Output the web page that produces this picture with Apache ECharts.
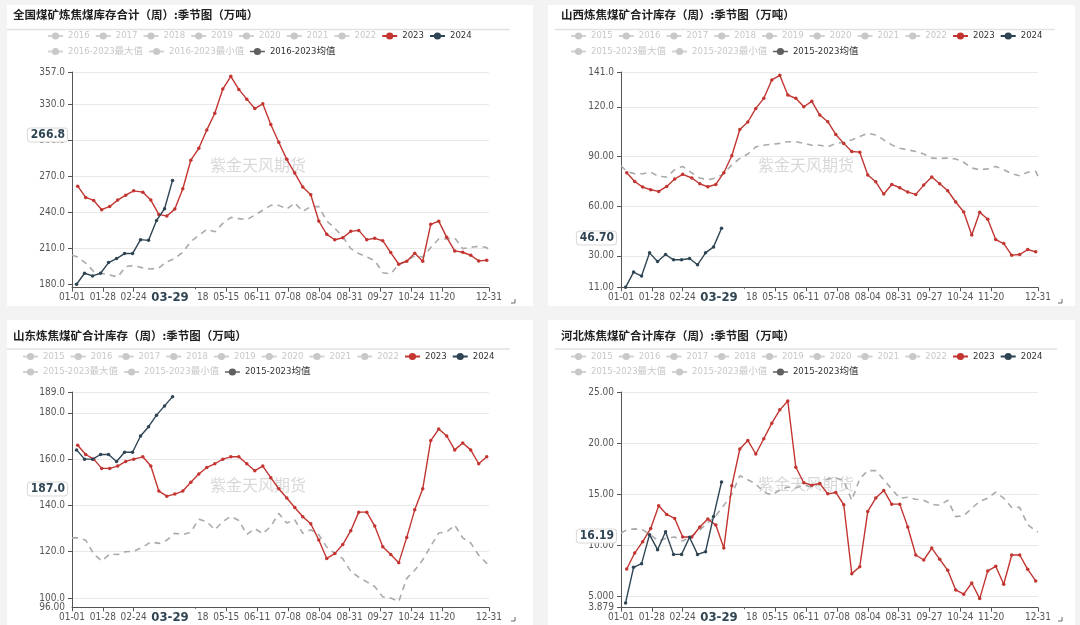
<!DOCTYPE html>
<html><head><meta charset="utf-8">
<script src="https://cdn.jsdelivr.net/npm/echarts@6/dist/echarts.min.js"></script>
<style>html,body{margin:0;padding:0;background:#f3f3f3;}#c{width:1080px;height:625px;}</style>
</head><body><div id="c"></div>
<script>
// ---------- data ----------
const titles = [
  '全国煤矿炼焦煤库存合计（周）:季节图（万吨）',
  '山西炼焦煤矿合计库存（周）:季节图（万吨）',
  '山东炼焦煤矿合计库存（周）:季节图（万吨）',
  '河北炼焦煤矿合计库存（周）:季节图（万吨）'
];
const hiddenYearsA = ['2016','2017','2018','2019','2020','2021','2022'];
const hiddenYearsB = ['2015','2016','2017','2018','2019','2020','2021','2022'];
const rangeA = '2016-2023';
const rangeB = '2015-2023';
const markDate = '03-29';

const fri2023 = ['01-06','01-13','01-20','01-27','02-03','02-10','02-17','02-24','03-03','03-10','03-17','03-24','03-31',
  '04-07','04-14','04-21','04-28','05-05','05-12','05-19','05-26','06-02','06-09','06-16','06-23','06-30',
  '07-07','07-14','07-21','07-28','08-04','08-11','08-18','08-25','09-01','09-08','09-15','09-22','09-29',
  '10-06','10-13','10-20','10-27','11-03','11-10','11-17','11-24','12-01','12-08','12-15','12-22','12-29'];
const fri2024 = ['01-05','01-12','01-19','01-26','02-02','02-09','02-16','02-23','03-01','03-08','03-15','03-22','03-29'];
const avgDates = ['01-01'].concat(fri2023, ['12-31']);

const qg2023 = [262.0,252.6,250.1,242.4,245.1,250.4,254.5,258.1,257.0,250.4,238.5,237.1,242.9,259.8,283.6,293.5,308.8,322.7,342.8,353.4,342.5,334.4,326.6,330.5,313.3,298.5,284.3,272.9,261.2,254.8,233.0,221.9,217.4,219.1,224.4,225.2,217.5,218.6,216.6,206.7,197.0,199.5,206.1,199.5,230.2,232.9,219.4,208.1,207.0,204.5,199.8,200.3];
const qg2024 = [180.4,189.5,187.3,189.5,198.4,201.7,205.9,205.9,217.5,216.9,233.5,243.2,266.8];
const qgAvg = [204.5,203,198,191,189.5,188,186.5,195,196,194,193,194,199,202,207,216,221,226,224,231,236,235,234,238,242,246,246,243,248,241,245,245,233,227,220,210,206,203,200,190,189,197,200,204,203,211,218,218,219,210,211,212,211,207];

const sx2023 = [80.2,74.9,71.5,69.9,68.9,71.9,76.4,79.2,77.0,73.5,71.7,73.1,80.2,90.4,106.3,110.8,119.0,125.1,136.2,139.0,127.1,125.1,120.0,123.3,115.0,111.0,103.3,97.9,93.0,92.6,78.8,74.7,67.3,73.1,71.1,68.5,67.1,72.7,77.6,73.5,69.3,62.5,56.5,42.6,56.3,52.1,39.8,37.4,30.4,30.8,33.8,32.4];
const sx2024 = [11.0,20.2,17.8,31.8,26.6,30.8,27.6,27.6,28.4,24.6,31.8,35.4,46.7];
const sxAvg = [84.4,81,79.5,79.6,80.5,78,77.6,82,84,80,77,76,77,79.6,85,88.8,91.5,95.8,96.8,97.4,97.9,98.9,98.9,97.9,96.8,96.8,95.8,97.9,98.5,100,102,104,103,100,97,95,94,93,91.5,89,88.8,89,88.5,86.5,83,82,82.5,84,82,79.5,78.4,80.5,81,78];

const sd2023 = [166.0,162.0,160.0,156.0,156.0,157.0,159.0,160.0,161.0,157.0,146.2,144.0,144.9,146.2,150.0,153.6,156.4,158.0,160.0,161.0,161.0,158.0,155.0,157.0,152.0,147.2,143.2,139.1,135.1,132.1,125.1,117.1,119.2,123.1,129.1,137.1,137.1,131.1,122.2,118.8,115.2,126.2,138.1,147.2,168.0,173.0,170.0,164.0,167.0,164.0,158.0,161.0];
const sd2024 = [164.0,160.0,160.0,162.0,162.0,159.0,163.0,163.0,170.0,174.0,179.0,183.0,187.0];
const sdAvg = [126,126,125,119,116,119,118.8,120,120.2,122,124.2,123.6,125,128,127.4,128.5,134,133,129.5,133,135.3,133.5,127.5,130,127.8,131,136.5,132.4,133.8,128,129.5,127.4,122,119.3,117,111.5,109,107,105,100.5,100,98.5,108.5,112,116.5,122.4,128.1,128.5,131.5,126,123.8,118.5,115,113.8];

const hb2023 = [7.67,9.23,10.34,11.64,13.86,13.01,12.62,10.80,10.80,11.78,12.56,11.97,9.72,15.81,19.42,20.26,18.93,20.42,21.95,23.25,24.12,17.63,16.11,15.88,16.04,15.03,15.16,13.96,7.21,7.90,13.31,14.61,15.36,14.02,14.02,11.78,9.04,8.55,9.72,8.62,7.54,5.62,5.20,6.30,4.77,7.48,7.93,6.17,9.04,9.04,7.64,6.50];
const hb2024 = [4.35,7.83,8.19,11.03,9.56,11.32,9.10,9.10,10.77,9.10,9.36,12.82,16.19];
const hbAvg = [11.2,11.5,11.6,11.5,11.0,10.4,10.7,10.8,10.4,10.9,11.5,12.2,12.9,13.9,15.0,16.8,16.4,16.0,15.2,14.9,15.4,15.7,15.6,15.9,15.7,16.0,16.5,16.6,16.3,14.4,16.5,17.3,17.3,16.4,15.5,14.6,14.7,14.5,14.4,14.0,13.9,14.4,12.8,12.9,13.6,14.3,14.6,15.2,14.6,13.7,13.7,12.0,11.4,11.3];

const yMin = [177.5, 11, 96, 3.879];
const yMax = [357, 141, 189, 25];

// ---------- axis categories (leap-year calendar MM-DD) ----------
const monthLen = [31,29,31,30,31,30,31,31,30,31,30,31];
const days = [];
const pad = n => (n < 10 ? '0' : '') + n;
monthLen.forEach((n, m) => { for (let d = 1; d <= n; d++) days.push(pad(m + 1) + '-' + pad(d)); });

// ---------- layout / style ----------
const FONT = "'Liberation Sans Narrow','DejaVu Sans Condensed','Noto Sans CJK SC','Noto Sans',sans-serif";
const CJK = "'Noto Sans CJK SC',sans-serif";
// minMode: 'hide' = no min label, 'axis' = axis draws it, 'extra' = drawn separately so the neighbouring tick label stays
const layout = [
  {rect:[7,5,526,301], tx:13, ty:17, sepY:29.5, sep:[7,510], lx:47, ly:36, grid:{left:72,top:72,width:417,height:215.7}, boxY:135, wm:[258,165], corner:[511,299], minMode:'hide'},
  {rect:[548,5,527,301], tx:561, ty:17, sepY:29.5, sep:[555,1055], lx:570, ly:36, grid:{left:621,top:72,width:417,height:215.3}, boxY:238, wm:[806,165], corner:[1058,299], minMode:'axis'},
  {rect:[7,320,526,310], tx:13, ty:338, sepY:349, sep:[7,510], lx:22, ly:356.5, grid:{left:72,top:392,width:417,height:215.3}, boxY:489, wm:[258,485], corner:[511,617], minMode:'extra'},
  {rect:[548,320,527,310], tx:561, ty:338, sepY:349, sep:[555,1057], lx:570, ly:356.5, grid:{left:621,top:392,width:417,height:215.7}, boxY:536, wm:[806,484], corner:[1058,617], minMode:'axis'}
];
const panels = [
  {years: hiddenYearsA, range: rangeA, s23: qg2023, s24: qg2024, avg: qgAvg},
  {years: hiddenYearsB, range: rangeB, s23: sx2023, s24: sx2024, avg: sxAvg},
  {years: hiddenYearsB, range: rangeB, s23: sd2023, s24: sd2024, avg: sdAvg},
  {years: hiddenYearsB, range: rangeB, s23: hb2023, s24: hb2024, avg: hbAvg}
];
const RED = '#c23531', BLUE = '#2f4554', AVG = '#5f5f5f';

const labelShow = (i) => (i % 27 === 0 && i !== 81 && i <= 324) || i === days.length - 1;
const fmt = v => (+v).toPrecision(4);
const zip = (dates, vals) => dates.map((d, j) => [d, vals[j]]);

const option = {
  animation: false,
  backgroundColor: '#f3f3f3',
  title: [], legend: [], grid: [], xAxis: [], yAxis: [], series: []
};

panels.forEach((p, i) => {
  const L = layout[i];
  const maxN = p.range + '最大值', minN = p.range + '最小值', avgN = p.range + '均值';
  const selected = {};
  p.years.forEach(y => selected[y] = false);
  selected[maxN] = false; selected[minN] = false;

  option.title.push({text: titles[i], left: L.tx, top: L.ty - 8, padding: 0,
    textStyle: {fontSize: 11.5, fontWeight: 'bold', color: '#222', fontFamily: CJK}});
  const legendBase = {left: L.lx, width: 520, padding: 0, itemWidth: 15, itemHeight: 9, itemGap: 5,
    inactiveColor: '#c8c8c8', selected: selected,
    textStyle: {fontSize: 9.5, color: '#333', fontFamily: FONT, lineHeight: 12}};
  option.legend.push(Object.assign({}, legendBase, {top: L.ly - 6,
    data: p.years.concat(['2023', '2024'])}));
  option.legend.push(Object.assign({}, legendBase, {top: L.ly + 9.5,
    data: [maxN, minN, {name: avgN, itemStyle: {color: AVG}, lineStyle: {color: AVG, type: 'solid', width: 1.5}}]}));

  option.grid.push(Object.assign({containLabel: false}, L.grid));
  option.xAxis.push({type: 'category', gridIndex: i, data: days, boundaryGap: false,
    axisLine: {lineStyle: {color: '#555'}},
    axisTick: {interval: labelShow, length: 4, lineStyle: {color: '#555'}},
    axisLabel: {interval: labelShow, fontSize: 10, color: '#555', margin: 5, fontFamily: FONT},
    splitLine: {show: false}});
  option.yAxis.push({type: 'value', gridIndex: i, min: yMin[i], max: yMax[i], scale: true,
    axisLine: {show: true, lineStyle: {color: '#555'}},
    axisTick: {show: true, length: 4, lineStyle: {color: '#555'}},
    axisLabel: {formatter: fmt, fontSize: 10, color: '#555', margin: 7, fontFamily: FONT,
      showMinLabel: L.minMode === 'axis', showMaxLabel: true, hideOverlap: false},
    splitLine: {lineStyle: {color: '#e9e9e9'}}});

  const hidden = p.years.concat([maxN, minN]);
  hidden.forEach(n => option.series.push({name: n, type: 'line', xAxisIndex: i, yAxisIndex: i,
    symbol: 'circle', data: []}));
  option.series.push({name: avgN, type: 'line', xAxisIndex: i, yAxisIndex: i, symbol: 'circle',
    showSymbol: false, z: 2, itemStyle: {color: AVG},
    lineStyle: {color: '#aaaaaa', width: 1.6, type: [6, 5]},
    data: zip(avgDates, p.avg)});
  option.series.push({name: '2023', type: 'line', xAxisIndex: i, yAxisIndex: i, symbol: 'circle',
    symbolSize: 3.5, showAllSymbol: true, z: 3, itemStyle: {color: RED},
    lineStyle: {color: RED, width: 1.4}, data: zip(fri2023, p.s23)});
  option.series.push({name: '2024', type: 'line', xAxisIndex: i, yAxisIndex: i, symbol: 'circle',
    symbolSize: 3.5, showAllSymbol: true, z: 4, itemStyle: {color: BLUE},
    lineStyle: {color: BLUE, width: 1.4}, data: zip(fri2024, p.s24)});
});

const chart = echarts.init(document.getElementById('c'), null, {renderer: 'canvas'});
chart.setOption(option);

// ---------- decorations ----------
const graphics = [];
panels.forEach((p, i) => {
  const L = layout[i];
  graphics.push({type: 'rect', z: -10, shape: {x: L.rect[0], y: L.rect[1], width: L.rect[2], height: L.rect[3]},
    style: {fill: '#ffffff'}, silent: true});
  graphics.push({type: 'line', z: -5, shape: {x1: L.sep[0], y1: L.sepY, x2: L.sep[1], y2: L.sepY},
    style: {stroke: '#e2e2e2', lineWidth: 1.5}, silent: true});
  graphics.push({type: 'text', z: 1, x: L.wm[0], y: L.wm[1], silent: true,
    style: {text: '紫金天风期货', font: "16px 'Noto Sans CJK SC'", fill: '#d9d9d9', align: 'center', verticalAlign: 'middle'}});
  const c = L.corner;
  graphics.push({type: 'polyline', z: 5, silent: true, shape: {points: [[c[0], c[1] + 4], [c[0] + 4, c[1] + 4], [c[0] + 4, c[1]]]},
    style: {stroke: '#666', lineWidth: 1, fill: null}});
  if (L.minMode === 'extra') {
    const py = chart.convertToPixel({yAxisIndex: i}, yMin[i]);
    graphics.push({type: 'text', z: 50, x: L.grid.left - 7, y: py, silent: true,
      style: {text: fmt(yMin[i]), font: "10px " + FONT, fill: '#555', align: 'right', verticalAlign: 'middle'}});
  }
  // last value box on y axis
  const last = p.s24[p.s24.length - 1];
  graphics.push({type: 'text', z: 100, x: L.grid.left - 5, y: L.boxY, silent: true,
    style: {text: fmt(last), font: "bold 12px " + FONT, fill: BLUE, align: 'right', verticalAlign: 'middle',
      backgroundColor: '#fff', borderColor: '#d9d9d9', borderWidth: 1, borderRadius: 3, padding: [1, 2, 0, 3]}});
  // current date label on x axis
  const px = chart.convertToPixel({xAxisIndex: i}, days.indexOf(markDate));
  graphics.push({type: 'text', z: 100, x: px, y: L.grid.top + L.grid.height + 10, silent: true,
    style: {text: markDate, font: "bold 13px " + FONT, fill: BLUE, align: 'center', verticalAlign: 'middle',
      backgroundColor: '#fff', padding: [2, 9, 2, 4]}});
});
chart.setOption({graphic: graphics});
</script>
</body></html>
